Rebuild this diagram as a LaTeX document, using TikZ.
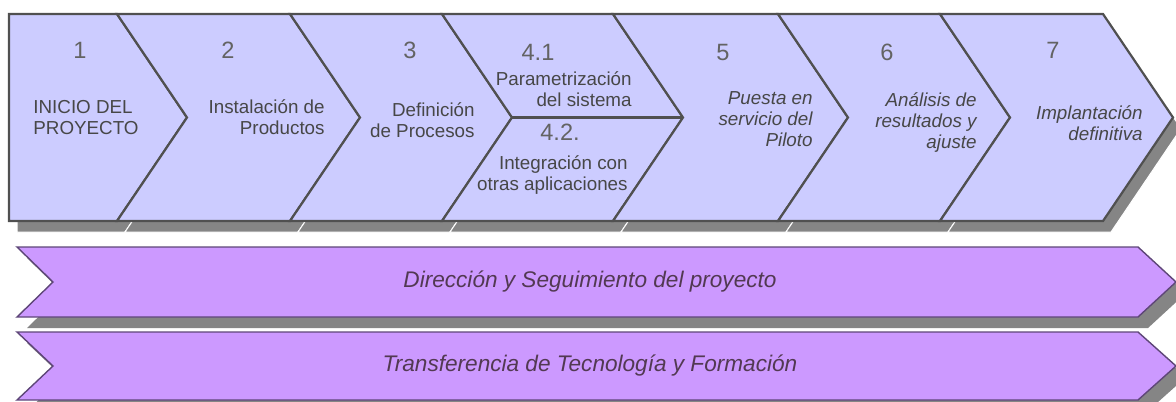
\documentclass[tikz,border=0pt]{standalone}
\usepackage{fontspec}
\setmainfont{Liberation Sans}
\usepackage{xcolor}

\definecolor{stepfill}{HTML}{CCCCFF}
\definecolor{stepline}{HTML}{505050}
\definecolor{barfill}{HTML}{CC99FF}
\definecolor{barline}{HTML}{5E4678}
\definecolor{shadowgray}{HTML}{858585}
\definecolor{labeltext}{HTML}{474747}

\tikzset{
    stepbox/.style={fill=stepfill, draw=stepline, line width=1.1pt, line join=miter},
    stepshadow/.style={fill=shadowgray, draw=white, line width=0.5pt},
    barbox/.style={fill=barfill, draw=barline, line width=0.7pt},
    numlabel/.style={text=labeltext!85, inner sep=0pt, font=\fontsize{11.8}{13}\selectfont},
    steplabel/.style={text=labeltext, inner sep=0pt, align=right, font=\fontsize{9.4}{10.5}\selectfont},
    barlabel/.style={text=labeltext!80!violet, inner sep=0pt, font=\fontsize{11.3}{13}\selectfont\itshape}
}

\begin{document}
\begin{tikzpicture}[x=0.5pt, y=-0.5pt]
        % Define the dimensions of the steps
        \def\ytop{14}
        \def\ybot{221}
        \def\ymid{117.5}
        \def\tip{70} % depth of each arrow point

        \path[use as bounding box, clip] (0,0) rectangle (1176,401);

        % Draw the shadows of the steps
        \foreach \l/\r/\n in {9/117/0, 117/290/70, 290/442/70, 442/613/70, 613/778/70, 778/940/70, 940/1103/70} {
            \draw[stepshadow, shift={(8,11)}] (\l,\ytop) -- (\r,\ytop) -- (\r+\tip,\ymid) -- (\r,\ybot) -- (\l,\ybot) -- (\l+\n,\ymid) -- cycle;
        }

        % Draw the steps
        \foreach \l/\r/\n in {9/117/0, 117/290/70, 290/442/70, 442/613/70, 613/778/70, 778/940/70, 940/1103/70} {
            \draw[stepbox] (\l,\ytop) -- (\r,\ytop) -- (\r+\tip,\ymid) -- (\r,\ybot) -- (\l,\ybot) -- (\l+\n,\ymid) -- cycle;
        }
        \draw[stepline, line width=1.1pt] (442+\tip,\ymid) -- (613+\tip,\ymid);

        % Draw the two bars with their shadows
        \foreach \t/\b in {247/317, 332/400} {
            \draw[stepshadow, draw=none, shift={(10,11)}] (17,\t) -- (1138,\t) -- (1176,\t/2+\b/2) -- (1138,\b) -- (17,\b) -- (53,\t/2+\b/2) -- cycle;
            \draw[barbox] (17,\t) -- (1138,\t) -- (1176,\t/2+\b/2) -- (1138,\b) -- (17,\b) -- (53,\t/2+\b/2) -- cycle;
        }

        % Add the step numbers
        \node[numlabel] (num1) at (80,50) {1};
        \node[numlabel] (num2) at (228,50) {2};
        \node[numlabel] (num3) at (410,50) {3};
        \node[numlabel] (num41) at (538,52) {4.1};
        \node[numlabel] (num42) at (560,132) {4.2.};
        \node[numlabel] (num5) at (723,52) {5};
        \node[numlabel] (num6) at (887,52) {6};
        \node[numlabel] (num7) at (1053,50) {7};

        % Add the step texts
        \node[steplabel, align=left, anchor=west] (txt1) at (33,117.5) {INICIO DEL\\PROYECTO};
        \node[steplabel, anchor=east] (txt2) at (325,117.5) {Instalación de\\Productos};
        \node[steplabel, anchor=east] (txt3) at (475,120) {Definición\\de Procesos};
        \node[steplabel, anchor=east] (txt41) at (632,89) {Parametrización\\del sistema};
        \node[steplabel, anchor=east] (txt42) at (628,175) {Integración con\\otras aplicaciones};
        \node[steplabel, anchor=east, font=\fontsize{9.4}{10.5}\selectfont\itshape] (txt5) at (813,119) {Puesta en\\servicio del\\Piloto};
        \node[steplabel, anchor=east, font=\fontsize{9.4}{10.5}\selectfont\itshape] (txt6) at (977,123) {Análisis de\\resultados y\\ajuste};
        \node[steplabel, anchor=east, font=\fontsize{9.4}{10.5}\selectfont\itshape] (txt7) at (1143,123.5) {Implantación\\definitiva};

        % Add the bar texts
        \node[barlabel] (bar1txt) at (590,282) {Dirección y Seguimiento del proyecto};
        \node[barlabel] (bar2txt) at (590,366) {Transferencia de Tecnología y Formación};
    \end{tikzpicture}
\end{document}
